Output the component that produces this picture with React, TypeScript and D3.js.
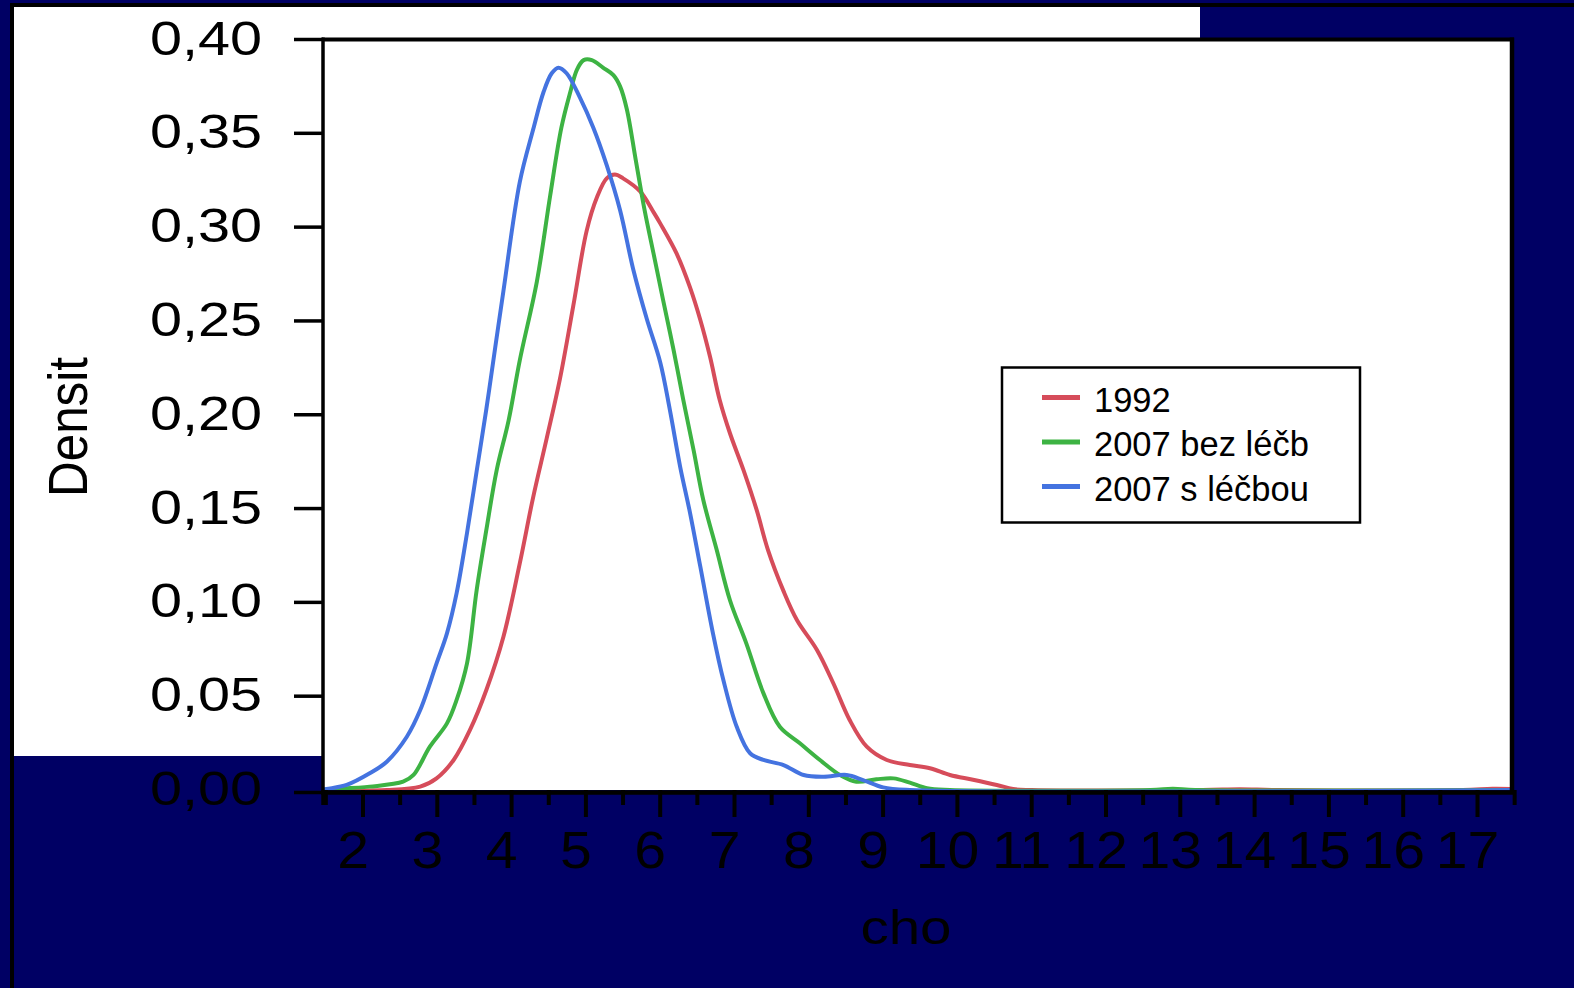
import React from "react";
import * as d3 from "d3";

// ---- data ----
const seriesNames = ["1992", "2007 bez léčb", "2007 s léčbou"];
const seriesColors = ["#d64c5a", "#3db343", "#4473e0"];

const x1992 = [1.46, 2.32, 2.77, 2.99, 3.22, 3.44, 3.66, 3.89, 4.11, 4.29, 4.47, 4.65, 4.83, 5.01, 5.15, 5.28, 5.39, 5.5, 5.73, 5.91, 6.0, 6.22, 6.4, 6.54, 6.67, 6.8, 6.94, 7.12, 7.3, 7.45, 7.66, 7.84, 8.11, 8.33, 8.55, 8.78, 9.05, 9.36, 9.63, 9.9, 10.21, 10.53, 10.75, 11.0, 13.3, 13.8, 14.3, 16.8, 17.2, 17.46];
const y1992 = [0, 0, 0.0018, 0.0062, 0.016, 0.032, 0.0533, 0.0817, 0.1208, 0.156, 0.187, 0.219, 0.258, 0.298, 0.316, 0.326, 0.328, 0.326, 0.319, 0.308, 0.302, 0.286, 0.268, 0.2505, 0.231, 0.208, 0.19, 0.1706, 0.149, 0.128, 0.106, 0.0906, 0.0746, 0.0569, 0.0373, 0.0231, 0.016, 0.0133, 0.0116, 0.008, 0.0055, 0.0027, 0.0005, 0, 0, 0.0004, 0, 0, 0.0006, 0.0005];

const xBez = [1.46, 1.51, 2.09, 2.54, 2.68, 2.9, 3.13, 3.26, 3.4, 3.53, 3.66, 3.8, 3.96, 4.11, 4.34, 4.52, 4.67, 4.79, 4.88, 4.97, 5.08, 5.23, 5.37, 5.46, 5.55, 5.67, 5.79, 5.91, 6.04, 6.18, 6.31, 6.45, 6.58, 6.76, 6.94, 7.16, 7.39, 7.61, 7.88, 8.15, 8.42, 8.64, 8.91, 9.14, 9.36, 9.59, 9.9, 12.6, 12.9, 13.2, 17.46];
const yBez = [0, 0.0003, 0.0018, 0.0044, 0.008, 0.0231, 0.0355, 0.048, 0.0675, 0.1066, 0.1386, 0.1706, 0.197, 0.229, 0.271, 0.317, 0.353, 0.372, 0.384, 0.389, 0.389, 0.385, 0.381, 0.375, 0.363, 0.336, 0.309, 0.286, 0.261, 0.2345, 0.208, 0.181, 0.1546, 0.128, 0.101, 0.078, 0.0515, 0.0337, 0.0249, 0.016, 0.008, 0.0044, 0.0057, 0.0062, 0.0039, 0.0009, 0, 0, 0.0006, 0, 0];

const xLec = [1.46, 1.51, 1.78, 2.09, 2.32, 2.59, 2.77, 2.99, 3.13, 3.26, 3.4, 3.53, 3.66, 3.78, 3.89, 4.11, 4.29, 4.43, 4.54, 4.63, 4.74, 4.92, 5.1, 5.28, 5.46, 5.64, 5.82, 6.0, 6.13, 6.27, 6.4, 6.54, 6.71, 6.85, 7.03, 7.21, 7.39, 7.66, 7.93, 8.2, 8.51, 8.73, 9.0, 9.36, 17.46];
const yLec = [0, 0.0005, 0.0027, 0.0089, 0.0151, 0.0284, 0.0426, 0.0675, 0.0835, 0.1049, 0.137, 0.17, 0.203, 0.236, 0.266, 0.324, 0.352, 0.372, 0.382, 0.385, 0.382, 0.369, 0.353, 0.333, 0.309, 0.277, 0.251, 0.228, 0.2026, 0.172, 0.148, 0.119, 0.0835, 0.0586, 0.0337, 0.0196, 0.016, 0.0133, 0.008, 0.0071, 0.008, 0.0053, 0.0014, 0, 0];

const seriesX = [x1992, xBez, xLec];
const seriesY = [y1992, yBez, yLec];

const xTickValues = d3.range(1.5, 17.51, 0.5);
const xLabelValues = d3.range(2, 18, 1);
const yTickValues = d3.range(0, 0.4001, 0.05);

const FONT = "'Liberation Sans', Arial, Helvetica, sans-serif";

export default function App() {
  const W = 1574;
  const H = 988;
  const plotLeft = 323;
  const plotRight = 1511;
  const plotTop = 39.5;
  const plotBottom = 790;

  const x = d3.scaleLinear().domain([2, 17]).range([363, 1477.5]);
  const y = d3.scaleLinear().domain([0, 0.4]).range([plotBottom, plotTop]);

  const line = d3
    .line<[number, number]>()
    .x((d) => x(d[0]))
    .y((d) => y(d[1]))
    .curve(d3.curveCatmullRom.alpha(0.5));

  const fmtY = (v: number) => d3.format(".2f")(v).replace(".", ",");

  return (
    <svg
      width={W}
      height={H}
      style={{ position: "absolute", left: 0, top: 0, display: "block" }}
      fontFamily={FONT}
    >
      {/* background */}
      <rect x={0} y={0} width={W} height={H} fill="#000064" />
      <rect x={12} y={5} width={1700} height={1200} fill="none" stroke="#000" strokeWidth={4} />
      <rect x={14} y={7} width={1186} height={749} fill="#fff" />

      {/* plot area */}
      <rect x={plotLeft} y={plotTop} width={plotRight - plotLeft} height={plotBottom - plotTop} fill="#fff" />

      {/* curves */}
      <defs>
        <clipPath id="clip">
          <rect x={plotLeft} y={plotTop - 5} width={plotRight - plotLeft} height={plotBottom - plotTop + 5} />
        </clipPath>
      </defs>
      <g clipPath="url(#clip)">
        {seriesNames.map((name, i) => {
          const pts: [number, number][] = seriesX[i].map((v, j) => [v, seriesY[i][j]]);
          return (
            <path
              key={name}
              d={line(pts) || ""}
              fill="none"
              stroke={seriesColors[i]}
              strokeWidth={4}
              strokeLinejoin="round"
            />
          );
        })}
      </g>

      {/* frame lines */}
      <line x1={plotLeft - 1} x2={plotRight + 3} y1={plotTop} y2={plotTop} stroke="#000" strokeWidth={4} />
      <line x1={plotRight + 1} x2={plotRight + 1} y1={plotTop - 2} y2={plotBottom + 2} stroke="#000" strokeWidth={4.5} />
      <line x1={plotLeft} x2={plotLeft} y1={plotTop - 2} y2={805} stroke="#000" strokeWidth={3.5} />
      <line x1={plotLeft - 2} x2={plotRight + 3} y1={plotBottom + 2.5} y2={plotBottom + 2.5} stroke="#000" strokeWidth={4.5} />

      {/* y ticks + labels */}
      {yTickValues.map((v) => (
        <g key={"y" + v}>
          <line x1={294} x2={plotLeft} y1={y(v) + (v === 0 ? 2.5 : 0)} y2={y(v) + (v === 0 ? 2.5 : 0)} stroke="#000" strokeWidth={3.5} />
          <text
            x={262}
            y={y(v) + 15}
            textAnchor="end"
            fontSize={48}
            fill="#000"
            textLength={112}
            lengthAdjust="spacingAndGlyphs"
          >
            {fmtY(v)}
          </text>
        </g>
      ))}

      {/* x ticks */}
      {xTickValues.map((v) => {
        const major = Math.abs(v - Math.round(v)) < 1e-6;
        return (
          <line
            key={"x" + v}
            x1={x(v)}
            x2={x(v)}
            y1={plotBottom}
            y2={major ? 817 : 805}
            stroke="#000"
            strokeWidth={4}
          />
        );
      })}
      {xLabelValues.map((v) => (
        <text
          key={"xl" + v}
          transform={`translate(${x(v) - 10},868) scale(1.12,1)`}
          textAnchor="middle"
          fontSize={51}
          fill="#000"
        >
          {v}
        </text>
      ))}

      {/* axis titles */}
      <text x={906} y={944} textAnchor="middle" fontSize={48} fill="#000" textLength={91} lengthAdjust="spacingAndGlyphs">
        cho
      </text>
      <text
        transform="translate(87,427) rotate(-90) scale(1,1.15)"
        textAnchor="middle"
        fontSize={49}
        fill="#000"
        textLength={140}
        lengthAdjust="spacingAndGlyphs"
      >
        Densit
      </text>

      {/* legend */}
      <rect x={1002} y={367.5} width={358} height={155} fill="#fff" stroke="#000" strokeWidth={2.5} />
      {seriesNames.map((name, i) => {
        const cy = 397.5 + i * 44.5;
        return (
          <g key={"lg" + name}>
            <line x1={1042} x2={1080} y1={cy} y2={cy} stroke={seriesColors[i]} strokeWidth={5} />
            <text x={1094} y={cy + 14} fontSize={34.5} fill="#000">
              {name}
            </text>
          </g>
        );
      })}
    </svg>
  );
}
